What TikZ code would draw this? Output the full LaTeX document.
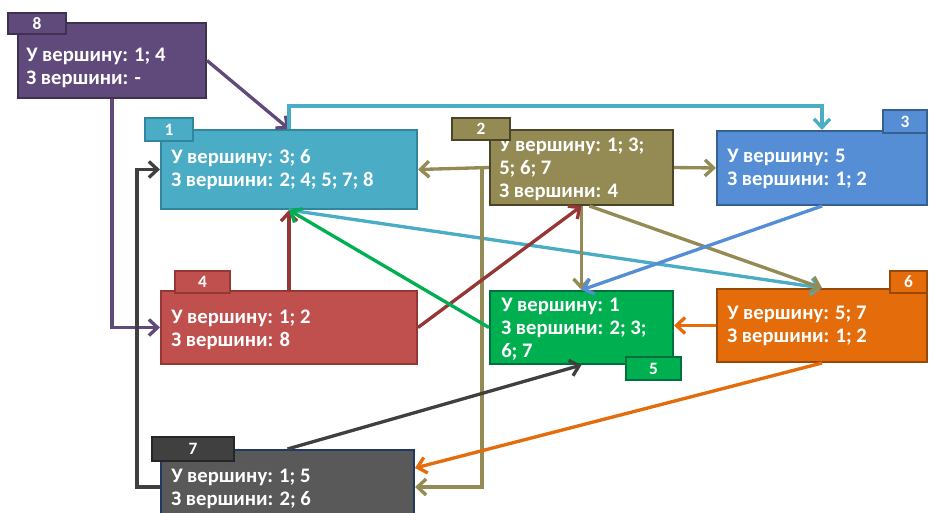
\documentclass[tikz,border=0pt]{standalone}
\usepackage{fontspec}
\setmainfont{Carlito}
\usetikzlibrary{arrows.meta,fit,calc}

\definecolor{vPurple}{HTML}{604A7B}\definecolor{vPurpleD}{HTML}{3F3151}
\definecolor{vAqua}{HTML}{4BACC6}\definecolor{vAquaD}{HTML}{31859C}
\definecolor{vOlive}{HTML}{948A54}\definecolor{vOliveD}{HTML}{4A4529}
\definecolor{vBlue}{HTML}{558ED5}\definecolor{vBlueD}{HTML}{376092}
\definecolor{vRed}{HTML}{C0504D}\definecolor{vRedD}{HTML}{953735}
\definecolor{vGreen}{HTML}{00B050}\definecolor{vGreenD}{HTML}{00703C}
\definecolor{vOrange}{HTML}{E46C0A}\definecolor{vOrangeD}{HTML}{984807}
\definecolor{vGrey}{HTML}{595959}\definecolor{vGreyT}{HTML}{404040}
\definecolor{vNavy}{HTML}{1F3864}

\begin{document}
\begin{tikzpicture}[
        x=0.75pt, y=-0.75pt,
        box/.style={draw, line width=1.5pt, inner sep=0pt},
        tab/.style={draw, line width=1.5pt, inner sep=0pt, text=white,
            font=\bfseries\fontsize{13}{13}\selectfont},
        txt/.style={anchor=west, inner sep=0pt, align=left, text=white,
            font=\bfseries\fontsize{15.5}{17.25}\selectfont},
        link/.style={line width=2.5pt,
            -{Straight Barb[length=6.5pt,width=12pt]}}
    ]
    \useasboundingbox (0,0) rectangle (929,512);

    % vertices
    \node[box, fill=vPurple, draw=vPurpleD, fit={(18,23) (206,98)}] (b8) {};
    \node[box, fill=vAqua, draw=vAquaD, fit={(161,130) (417,209)}] (b1) {};
    \node[box, fill=vOlive, draw=vOliveD, fit={(490,130) (673,205)}] (b2) {};
    \node[box, fill=vBlue, draw=vBlueD, fit={(717,131) (927,205)}] (b3) {};
    \node[box, fill=vRed, draw=vRedD, fit={(161,291) (417,364)}] (b4) {};
    \node[box, fill=vGreen, draw=vGreenD, fit={(490,291) (673,364)}] (b5) {};
    \node[box, fill=vOrange, draw=vOrangeD, fit={(717,289) (927,362)}] (b6) {};
    \node[box, fill=vGrey, draw=vNavy, fit={(161,450) (414,524)}] (b7) {};

    \node[txt] (t8) at (26,68) {У вершину: 1; 4\\З вершини: -};
    \node[txt] (t1) at (171,169.5) {У вершину: 3; 6\\З вершини: 2; 4; 5; 7; 8};
    \node[txt] (t2) at (499,169.5) {У вершину: 1; 3;\\5; 6; 7\\З вершини: 4};
    \node[txt] (t3) at (727,168.5) {У вершину: 5\\З вершини: 1; 2};
    \node[txt] (t4) at (171,329.5) {У вершину: 1; 2\\З вершини: 8};
    \node[txt] (t5) at (501,329) {У вершину: 1\\З вершини: 2; 3;\\6; 7};
    \node[txt] (t6) at (727,325.5) {У вершину: 5; 7\\З вершини: 1; 2};
    \node[txt] (t7) at (171,488.5) {У вершину: 1; 5\\З вершини: 2; 6};

    % tabs
    \node[tab, fill=vPurple, draw=vPurpleD, minimum width=43.5pt, minimum height=15.75pt] (n8) at (37,23.5) {8};
    \node[tab, fill=vAqua, draw=vAquaD, minimum width=36pt, minimum height=17.25pt] (n1) at (169,129.5) {1};
    \node[tab, fill=vOlive, draw=vOliveD, minimum width=43.5pt, minimum height=16.5pt] (n2) at (481,129) {2};
    \node[tab, fill=vBlue, draw=vBlueD, minimum width=33pt, minimum height=17.25pt] (n3) at (905,121.5) {3};
    \node[tab, fill=vRed, draw=vRedD, minimum width=41.25pt, minimum height=16.5pt] (n4) at (202.5,282) {4};
    \node[tab, fill=vGreen, draw=vGreenD, minimum width=41.25pt, minimum height=17.25pt] (n5) at (653.5,368.5) {5};
    \node[tab, fill=vOrange, draw=vOrangeD, minimum width=27.75pt, minimum height=16.5pt] (n6) at (908.5,282) {6};
    \node[tab, fill=vGreyT, draw=vGreyT!60!black, minimum width=61.5pt, minimum height=18pt] (n7) at (193,449) {7};

    % arcs
    \draw[link, vPurple] (b8.east) -- (b1.north);
    \draw[link, vPurple] (b8.south) |- (b4.west);
    \draw[link, vAqua] (b1.north) -- ++(0,-23) -| (b3.north);
    \draw[link, vAqua] (b1.south) -- (b6.north);
    \draw[link, vOlive] (b2.west) -- (b1.east);
    \draw[link, vOlive] (b2.east) -- (b3.west);
    \draw[link, vOlive] (b2.south) -- (b5.north);
    \draw[link, vOlive] ([xshift=6pt]b2.south) -- (b6.north);
    \draw[link, vOlive] (b2.west) -- ++(-7,0) |- (b7.east);
    \draw[link, vBlue] (b3.south) -- (b5.north);
    \draw[link, vRedD] (b4.north) -- (b1.south);
    \draw[link, vRedD] (b4.east) -- (b2.south);
    \draw[link, vGreen] (b5.west) -- (b1.south);
    \draw[link, vOrange] (b6.west) -- (b6.west -| b5.east);
    \draw[link, vOrange] (b6.south) -- ([yshift=14.25pt]b7.east);
    \draw[link, vGreyT] (b7.north) -- (b5.south);
    \draw[link, vGreyT] (b7.west) -- ++(-23,0) |- (b1.west);
\end{tikzpicture}
\end{document}
